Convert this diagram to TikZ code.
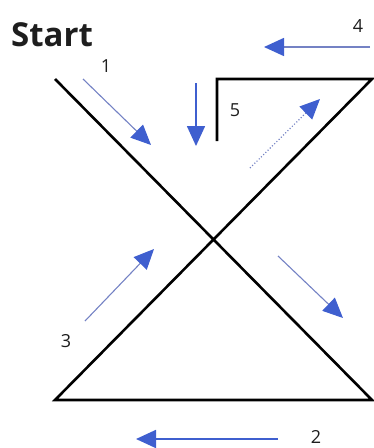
\documentclass[tikz,border=0pt]{standalone}
\usepackage{fontspec}
\setmainfont{Open Sans}
\usetikzlibrary{arrows.meta}
\definecolor{flowblue}{HTML}{3F5FCF}
\definecolor{shaftblue}{HTML}{7482C4}
\definecolor{ink}{HTML}{1E1E1E}

\begin{document}
\begin{tikzpicture}[x=1pt,y=-1pt,font=\fontsize{18}{20}\selectfont,
  edge/.style={draw=black,line width=2.6pt},
  flow/.style={draw=shaftblue,line width=1.1pt,
    -{Triangle[length=20pt,width=18pt,color=flowblue,fill=flowblue]}},
  steplabel/.style={text=ink,inner sep=0pt}]
  \useasboundingbox (0,0) rectangle (373,448);
  % outline of the crossing
  \coordinate (tl) at (55,79);
  \coordinate (br) at (372,400);
  \coordinate (bl) at (55,400);
  \coordinate (tr) at (372,79);
  \coordinate (stemtop) at (217,79);
  \coordinate (stemend) at (217,141);
  \draw[edge] (tl) -- (br) -- (bl) -- (tr) -- (stemtop) -- (stemend);
  % arrow ends
  \coordinate (a1s) at (83,79);   \coordinate (a1e) at (151,145);
  \coordinate (a2s) at (278,439); \coordinate (a2e) at (136,439);
  \coordinate (a3s) at (85,321);  \coordinate (a3e) at (154,249);
  \coordinate (a4s) at (370,47);  \coordinate (a4e) at (264,47);
  \coordinate (a5s) at (196,83);  \coordinate (a5e) at (196,146);
  \coordinate (ups) at (250,168); \coordinate (upe) at (320,99);
  \coordinate (dns) at (278,256); \coordinate (dne) at (343,318);
  \draw[flow] (a1s) -- (a1e);
  \draw[flow,line width=1.8pt,draw=flowblue] (a2s) -- (a2e);
  \draw[flow] (a3s) -- (a3e);
  \draw[flow,line width=1.5pt] (a4s) -- (a4e);
  \draw[flow,line width=1.6pt,draw=flowblue] (a5s) -- (a5e);
  \draw[flow,dotted,line width=1.2pt] (ups) -- (upe);
  \draw[flow] (dns) -- (dne);
  % labels
  \node[steplabel,font=\fontsize{33}{35}\selectfont\bfseries] (start) at (52,35) {Start};
  \node[steplabel] (n1) at (106,66) {1};
  \node[steplabel] (n2) at (316,437) {2};
  \node[steplabel] (n3) at (66,341) {3};
  \node[steplabel] (n4) at (358,26) {4};
  \node[steplabel] (n5) at (235,110) {5};
\end{tikzpicture}
\end{document}
